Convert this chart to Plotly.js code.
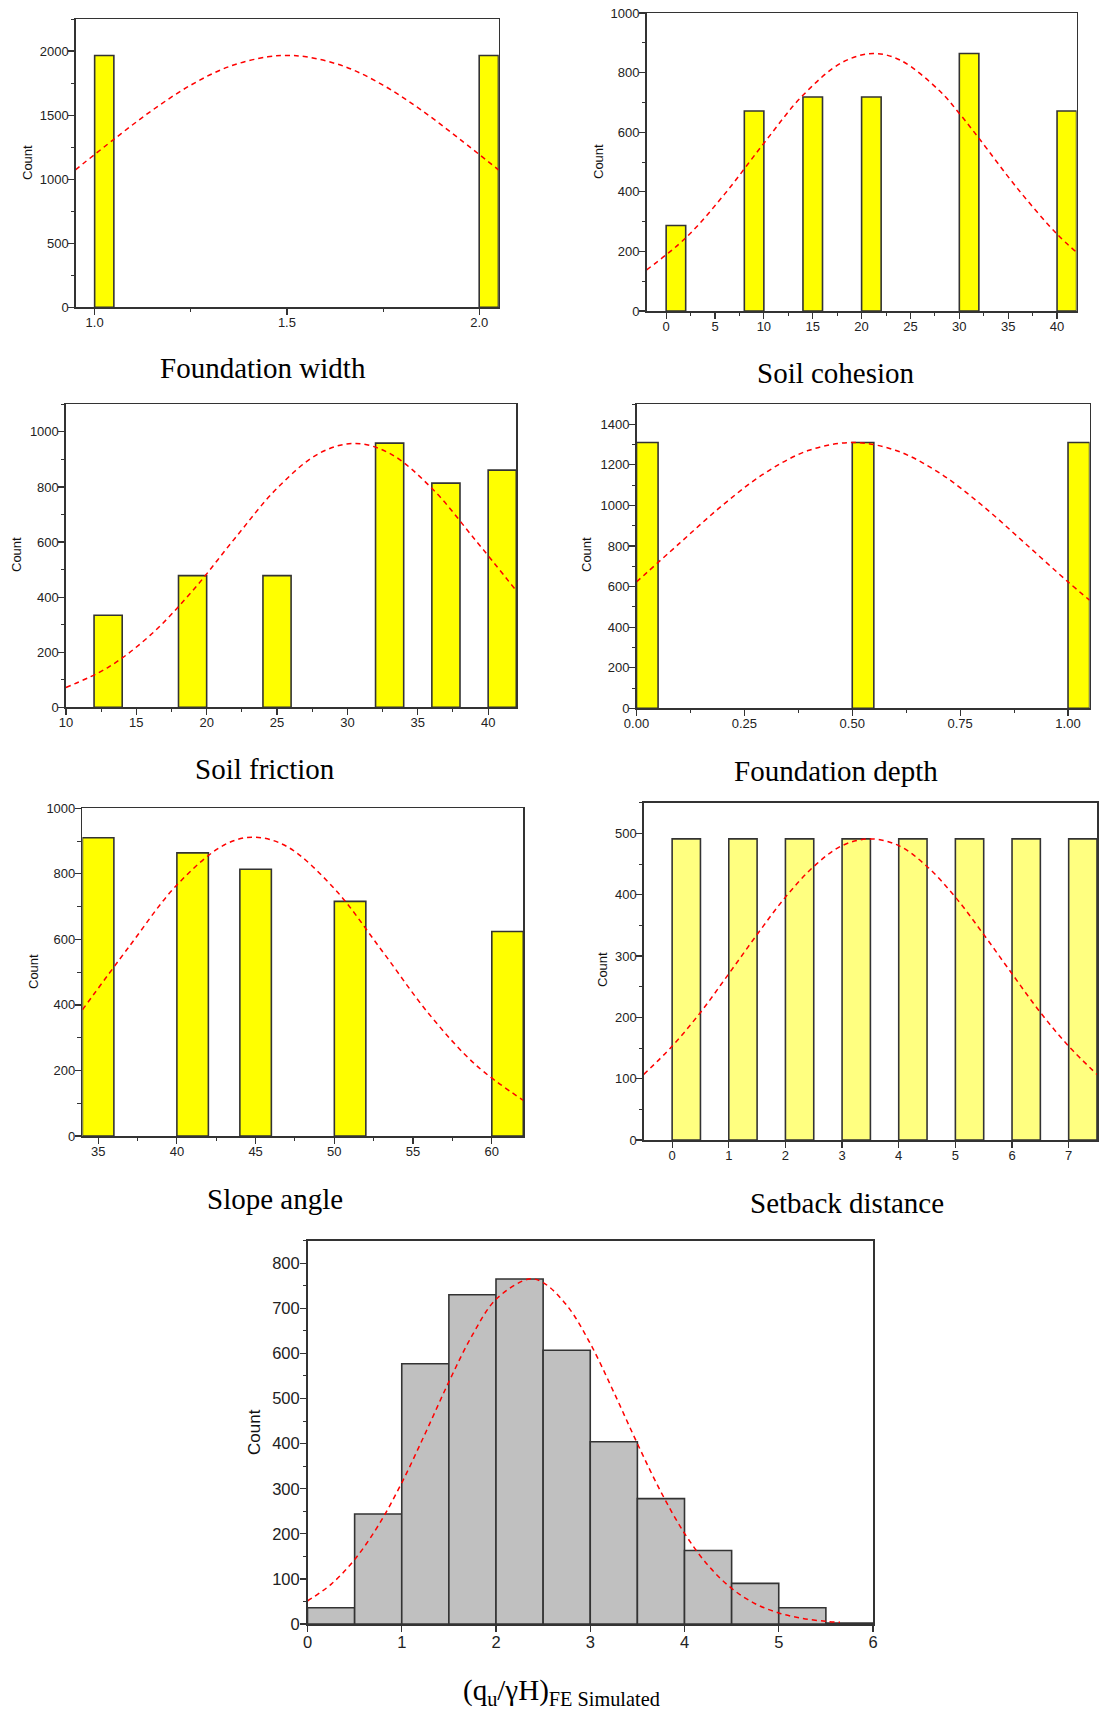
<!DOCTYPE html>
<html><head><meta charset="utf-8">
<script src="https://cdn.plot.ly/plotly-3.0.1.min.js"></script>
<style>html,body{margin:0;padding:0;background:#fff}#chart{width:1099px;height:1711px}</style>
</head><body><div id="chart"></div>
<script>
// ---------- data ----------
const widthEdges = [1.0, 2.0];
const widthCounts = [1965, 1965];
const widthFitX = [0.95, 1.05, 1.15, 1.25, 1.35, 1.45, 1.5, 1.55, 1.65, 1.75, 1.85, 1.95, 2.05];
const widthFitY = [1073, 1311, 1538, 1734, 1879, 1955, 1965, 1955, 1879, 1734, 1538, 1311, 1073];

const cohEdges = [0, 8, 14, 20, 30, 40];
const cohCounts = [287, 671, 718, 718, 864, 671];
const cohFitX = [-2, 2, 6, 10, 14, 18, 21.2, 24, 28, 30, 32, 36, 40, 42];
const cohFitY = [138, 245, 393, 563, 724, 834, 864, 841, 738, 663, 580, 409, 258, 197];

const fricEdges = [12, 18, 24, 32, 36, 40];
const fricCounts = [334, 478, 478, 959, 814, 861];
const fricFitX = [10, 13, 16, 19, 22, 25, 28, 30.5, 33, 36, 39, 42];
const fricFitY = [72, 145, 262, 423, 613, 795, 922, 958, 922, 795, 613, 423];

const depthEdges = [0, 0.5, 1.0];
const depthCounts = [1310, 1310, 1310];
const depthFitX = [0, 0.1, 0.2, 0.3, 0.4, 0.5, 0.6, 0.7, 0.8, 0.9, 1.0, 1.05];
const depthFitY = [623, 814, 1002, 1163, 1272, 1310, 1272, 1163, 1002, 814, 623, 533];

const slopeEdges = [34, 40, 44, 50, 60];
const slopeCounts = [910, 864, 814, 716, 624];
const slopeFitX = [34, 37, 40, 43, 44.9, 47, 50, 53, 56, 59, 62];
const slopeFitY = [385, 580, 766, 888, 912, 883, 755, 567, 373, 216, 109];

const setEdges = [0, 1, 2, 3, 4, 5, 6, 7];
const setCounts = [491, 491, 491, 491, 491, 491, 491, 491];
const setFitX = [-0.5, 0, 0.5, 1, 1.5, 2, 2.5, 3, 3.5, 4, 4.5, 5, 5.5, 6, 6.5, 7, 7.5];
const setFitY = [107, 153, 208, 271, 335, 396, 446, 480, 491, 480, 446, 396, 335, 271, 208, 153, 107];

const qEdges = [0, 0.5, 1.0, 1.5, 2.0, 2.5, 3.0, 3.5, 4.0, 4.5, 5.0, 5.5];
const qCounts = [36, 244, 577, 730, 765, 607, 404, 278, 163, 90, 36, 2];
const qFitX = [0, 0.25, 0.5, 0.75, 1, 1.25, 1.5, 1.75, 2, 2.35, 2.5, 2.75, 3, 3.25, 3.5, 3.75, 4, 4.25, 4.5, 4.75, 5, 5.25, 5.5, 5.65];
const qFitY = [51, 88, 143, 218, 313, 423, 537, 641, 720, 765, 757, 707, 622, 514, 400, 293, 201, 130, 79, 45, 24.5, 12.4, 5.9, 3.7];

const panelTitles = ['Foundation width', 'Soil cohesion', 'Soil friction', 'Foundation depth',
  'Slope angle', 'Setback distance', '(q<sub>u</sub>/γH)<sub>FE Simulated</sub>'];
const yLabel = 'Count';

// ---------- layout / styling ----------
const W = 1099, H = 1711;
const panels = [
  {edges: widthEdges, counts: widthCounts, bw: 0.05, fx: widthFitX, fy: widthFitY, fill: '#FFFF00',
   px: [75.8, 498.8], py: [19, 307.3], xr: [0.951, 2.051], x0: 1, xd: 0.5, xm: 0.25, xf: '.1f',
   yr: [0, 2250], yd: 500, ym: 250, fs: 13, title: [263, 368], cnt: [28, 163]},
  {edges: cohEdges, counts: cohCounts, bw: 2, fx: cohFitX, fy: cohFitY, fill: '#FFFF00',
   px: [646.6, 1076.6], py: [13, 311], xr: [-2, 42], x0: 0, xd: 5, xm: 2.5, xf: '',
   yr: [0, 1000], yd: 200, ym: 100, fs: 13, title: [836, 373], cnt: [598, 162]},
  {edges: fricEdges, counts: fricCounts, bw: 2, fx: fricFitX, fy: fricFitY, fill: '#FFFF00',
   px: [65.9, 516.3], py: [404.3, 707.3], xr: [10, 42], x0: 10, xd: 5, xm: 2.5, xf: '',
   yr: [0, 1100], yd: 200, ym: 100, fs: 13, title: [265, 769], cnt: [16, 555]},
  {edges: depthEdges, counts: depthCounts, bw: 0.05, fx: depthFitX, fy: depthFitY, fill: '#FFFF00',
   px: [636.5, 1089.6], py: [404, 708.3], xr: [0, 1.05], x0: 0, xd: 0.25, xm: 0.125, xf: '.2f',
   yr: [0, 1500], yd: 200, ym: 100, fs: 13, title: [836, 771], cnt: [586, 555]},
  {edges: slopeEdges, counts: slopeCounts, bw: 2, fx: slopeFitX, fy: slopeFitY, fill: '#FFFF00',
   px: [82.4, 523.3], py: [808.3, 1136], xr: [34, 62], x0: 35, xd: 5, xm: 2.5, xf: '',
   yr: [0, 1000], yd: 200, ym: 100, fs: 13, title: [275, 1199], cnt: [33, 972]},
  {edges: setEdges, counts: setCounts, bw: 0.5, fx: setFitX, fy: setFitY, fill: '#FFFF80',
   px: [643.8, 1097], py: [802.7, 1140], xr: [-0.5, 7.5], x0: 0, xd: 1, xm: null, xf: '',
   yr: [0, 550], yd: 100, ym: 50, fs: 13, title: [847, 1203], cnt: [602, 970]},
  {edges: qEdges, counts: qCounts, bw: 0.5, fx: qFitX, fy: qFitY, fill: '#C0C0C0',
   px: [307.5, 873], py: [1240.7, 1624], xr: [0, 6], x0: 0, xd: 1, xm: null, xf: '',
   yr: [0, 850], yd: 100, ym: 50, fs: 16.5, title: [561, 1692], cnt: [254, 1432]}
];

const data = [];
const layout = {
  width: W, height: H, margin: {l: 0, r: 0, t: 0, b: 0},
  paper_bgcolor: '#fff', plot_bgcolor: '#fff', showlegend: false, annotations: []
};
const AX = '#333';
panels.forEach((p, i) => {
  const n = i === 0 ? '' : String(i + 1);
  data.push({type: 'bar', x: p.edges, y: p.counts, width: p.bw, offset: 0,
    xaxis: 'x' + n, yaxis: 'y' + n,
    marker: {color: p.fill, line: {color: '#333', width: 1.6}}, hoverinfo: 'skip'});
  data.push({type: 'scatter', mode: 'lines', x: p.fx, y: p.fy, xaxis: 'x' + n, yaxis: 'y' + n,
    line: {color: '#FF0000', width: 1.5, dash: '5px,4px', shape: 'spline', smoothing: 1},
    hoverinfo: 'skip'});
  const tf = {family: 'Liberation Sans, Arial, sans-serif', size: p.fs, color: '#222'};
  const xa = {domain: [p.px[0] / W, p.px[1] / W], anchor: 'y' + n, range: p.xr,
    tick0: p.x0, dtick: p.xd, showgrid: false, zeroline: false,
    showline: true, linecolor: AX, linewidth: 1.5, mirror: true, ticklabelstandoff: -3,
    ticks: 'outside', ticklen: 6, tickwidth: 1.2, tickcolor: AX, tickfont: tf, fixedrange: true};
  if (p.xf) xa.tickformat = p.xf;
  if (p.xm) xa.minor = {ticks: 'outside', ticklen: 3.5, tickwidth: 1, tickcolor: AX, tick0: p.x0, dtick: p.xm, showgrid: false};
  const ya = {domain: [1 - p.py[1] / H, 1 - p.py[0] / H], anchor: 'x' + n, range: p.yr,
    tick0: 0, dtick: p.yd, showgrid: false, zeroline: false,
    showline: true, linecolor: AX, linewidth: 1.5, mirror: true, ticklabelstandoff: -3,
    ticks: 'outside', ticklen: 6, tickwidth: 1.2, tickcolor: AX, tickfont: tf, fixedrange: true,
    minor: {ticks: 'outside', ticklen: 3.5, tickwidth: 1, tickcolor: AX, tick0: 0, dtick: p.ym, showgrid: false}};
  layout['xaxis' + n] = xa;
  layout['yaxis' + n] = ya;
  layout.annotations.push({text: panelTitles[i], xref: 'paper', yref: 'paper',
    x: p.title[0] / W, y: 1 - p.title[1] / H, xanchor: 'center', yanchor: 'middle', showarrow: false,
    font: {family: 'Liberation Serif, Times New Roman, serif', size: 29, color: '#000'}});
  layout.annotations.push({text: yLabel, xref: 'paper', yref: 'paper', textangle: -90,
    x: p.cnt[0] / W, y: 1 - p.cnt[1] / H, xanchor: 'center', yanchor: 'middle', showarrow: false,
    font: {family: 'Liberation Sans, Arial, sans-serif', size: i === 6 ? 17 : 13, color: '#111'}});
});

Plotly.newPlot('chart', data, layout, {staticPlot: true, displayModeBar: false});
</script></body></html>
